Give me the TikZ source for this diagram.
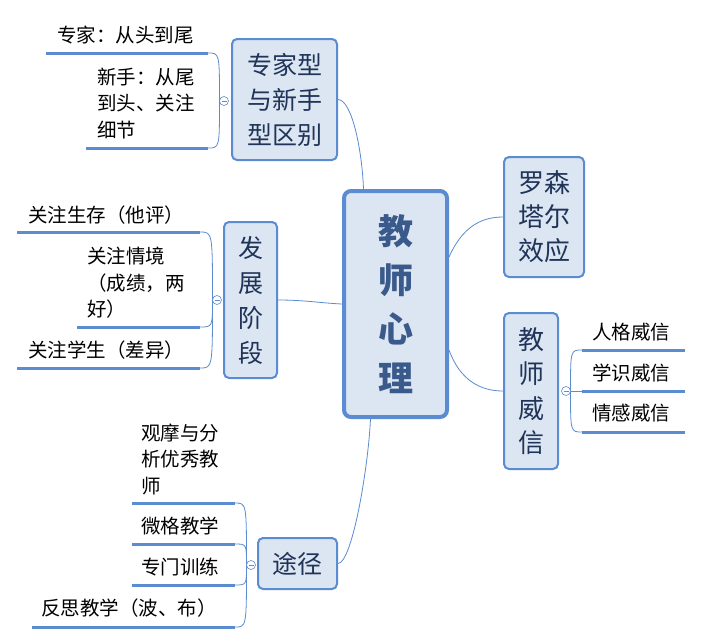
\documentclass[tikz,border=0pt]{standalone}
\usepackage{fontspec}
\setmainfont{Noto Sans CJK SC}
\usetikzlibrary{calc}
\definecolor{bord}{HTML}{5B8BD0}
\definecolor{boxfill}{HTML}{DCE6F2}
\definecolor{boxtext}{HTML}{1F3458}
\definecolor{maintext}{HTML}{3A5A8C}
\tikzset{
 maintopic/.style={draw=bord, line width=4pt, fill=boxfill, rounded corners=7pt, minimum width=103pt, minimum height=226pt, text=maintext, font=\fontsize{35}{49}\selectfont\bfseries, align=center, inner sep=0pt},
 subtopic/.style={draw=bord, line width=2pt, fill=boxfill, rounded corners=5pt, text=boxtext, align=center, inner sep=0pt},
 subfont/.style={font=\fontsize{25}{35}\selectfont},
 leaf/.style={anchor=west, inner sep=0pt, align=left, font=\fontsize{19.5}{26.5}\selectfont, text=black},
 uline/.style={draw=bord, line width=3pt},
 link/.style={draw=bord, line width=0.8pt},
 bracket/.style={draw=bord, line width=0.8pt},
 fold/.style={circle, draw=bord, line width=0.6pt, fill=white, minimum size=9pt, inner sep=0pt,
   path picture={\draw[bord, line width=0.6pt] ([xshift=-2.5pt]path picture bounding box.center) -- ([xshift=2.5pt]path picture bounding box.center);}},
}
\begin{document}
\begin{tikzpicture}[x=1pt,y=-1pt]
\useasboundingbox[fill=white] (0,0) rectangle (703,643);

% topics
\node[maintopic] (main) at (395.5,304) {教\\师\\心\\理};
\node[subtopic, subfont, minimum width=105pt, minimum height=121pt] (zj) at (284.5,99.5) {专家型\\与新手\\型区别};
\node[subtopic, subfont, minimum width=53pt, minimum height=156pt] (fz) at (250.5,300) {发\\展\\阶\\段};
\node[subtopic, subfont, minimum width=79pt, minimum height=51pt] (tj) at (297.5,563.5) {途径};
\node[subtopic, font=\fontsize{26}{34}\selectfont, minimum width=80pt, minimum height=120pt] (ls) at (544,217) {罗森\\塔尔\\效应};
\node[subtopic, font=\fontsize{26}{34.5}\selectfont, minimum width=54pt, minimum height=156pt] (wx) at (531,391) {教\\师\\威\\信};

% links from main topic
\draw[link] (zj.east) .. controls (352,100) and (362,150) .. ([xshift=-32pt]main.north);
\draw[link] (fz.east) .. controls (305,300) and (320,303) .. (main.west);
\draw[link] (tj.east) .. controls (352,563) and (368,470) .. ([xshift=-25pt]main.south);
\draw[link] ([yshift=47pt]main.east) .. controls (462,228) and (480,217) .. (ls.west);
\draw[link] ([yshift=-46pt]main.east) .. controls (460,380) and (480,391) .. (wx.west);

% leaves group 1
\node[leaf] (a1) at (57,35) {专家：从头到尾};
\coordinate (a1l) at (46,53); \coordinate (a1r) at (208,53);
\node[leaf] (a2) at (97,103.5) {新手：从尾\\到头、关注\\细节};
\coordinate (a2l) at (86,148); \coordinate (a2r) at (208,148);

% leaves group 2
\node[leaf] (b1) at (28,215) {关注生存（他评）};
\coordinate (b1l) at (17,232); \coordinate (b1r) at (200,232);
\node[leaf] (b2) at (87,283) {关注情境\\（成绩，两\\好）};
\coordinate (b2l) at (77,327); \coordinate (b2r) at (200,327);
\node[leaf] (b3) at (28,350) {关注学生（差异）};
\coordinate (b3l) at (17,368); \coordinate (b3r) at (200,368);

% leaves group 3
\node[leaf] (c1) at (141,459) {观摩与分\\析优秀教\\师};
\coordinate (c1l) at (132,503); \coordinate (c1r) at (235,503);
\node[leaf] (c2) at (141,526) {微格教学};
\coordinate (c2l) at (132,544); \coordinate (c2r) at (235,544);
\node[leaf] (c3) at (141,567) {专门训练};
\coordinate (c3l) at (132,585); \coordinate (c3r) at (235,585);
\node[leaf] (c4) at (41,608) {反思教学（波、布）};
\coordinate (c4l) at (32,627); \coordinate (c4r) at (235,627);

% leaves group 4
\node[leaf] (d1) at (592,332) {人格威信};
\coordinate (d1l) at (582,350); \coordinate (d1r) at (685,350);
\node[leaf] (d2) at (592,373) {学识威信};
\coordinate (d2l) at (582,391); \coordinate (d2r) at (685,391);
\node[leaf] (d3) at (592,413) {情感威信};
\coordinate (d3l) at (582,432); \coordinate (d3r) at (685,432);

% underlines
\foreach \u in {a1,a2,b1,b2,b3,c1,c2,c3,c4,d1,d2,d3}
  \draw[uline] (\u l) -- (\u r);

% fold circle attachment points
\coordinate (f1w) at (219.5,101);
\coordinate (f2w) at (212.5,300);
\coordinate (f3w) at (246.5,565);
\coordinate (f4e) at (570.5,391);

% brackets
\foreach \u in {a1,a2}
  \draw[bracket] (f1w) .. controls (f1w |- \u r) .. (\u r);
\foreach \u in {b1,b2,b3}
  \draw[bracket] (f2w) .. controls (f2w |- \u r) .. (\u r);
\foreach \u in {c1,c2,c3,c4}
  \draw[bracket] (f3w) .. controls (f3w |- \u r) .. (\u r);
\draw[bracket] (f4e) .. controls (f4e |- d1l) .. (d1l);
\draw[bracket] (f4e) -- (d2l);
\draw[bracket] (f4e) .. controls (f4e |- d3l) .. (d3l);

% fold circles
\node[fold] (f1) at (224,101) {};
\node[fold] (f2) at (217,300) {};
\node[fold] (f3) at (251,565) {};
\node[fold] (f4) at (566,391) {};
\end{tikzpicture}
\end{document}
